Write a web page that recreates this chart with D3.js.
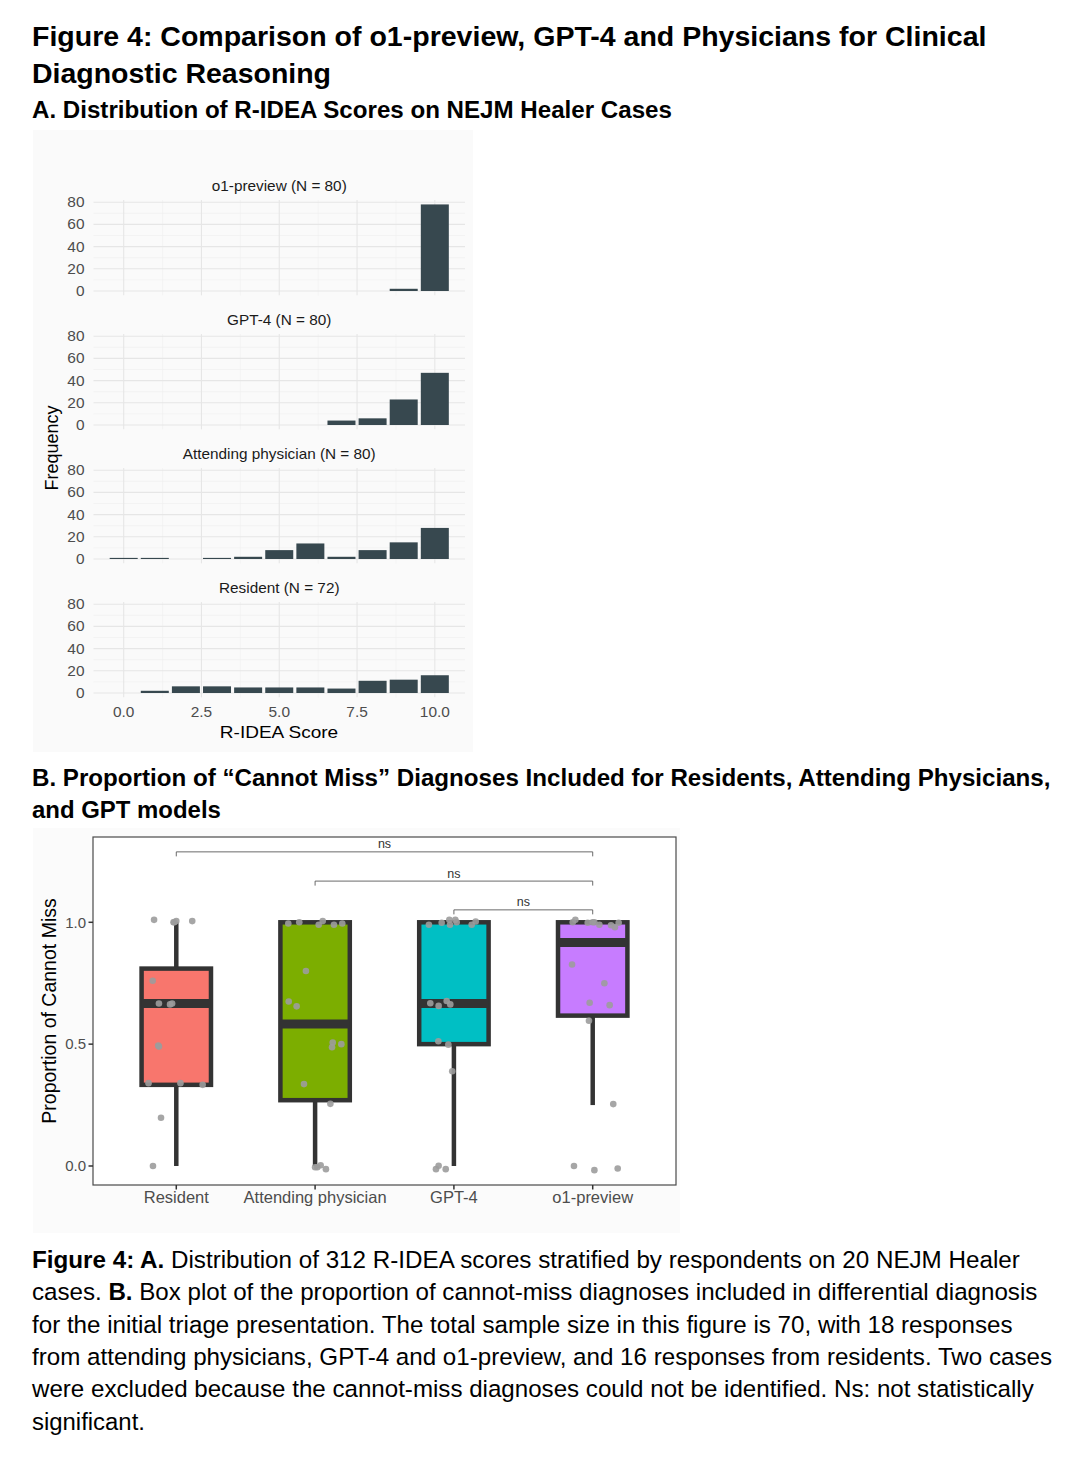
<!DOCTYPE html>
<html><head><meta charset="utf-8">
<script src="https://cdn.jsdelivr.net/npm/d3@7"></script>
<style>body{margin:0;background:#fff;} text{font-family:"Liberation Sans",Arial,Helvetica,sans-serif;}</style>
</head><body><svg id="c" width="1080" height="1462"></svg>
<script>
// ---------------- data ----------------
const scoreBins = [0,1,2,3,4,5,6,7,8,9,10];
const facetLabels = ["o1-preview (N = 80)","GPT-4 (N = 80)","Attending physician (N = 80)","Resident (N = 72)"];
const o1Counts        = [0,0,0,0,0,0,0,0,0,2,78];
const gpt4Counts      = [0,0,0,0,0,0,0,4,6,23,47];
const attendingCounts = [1,1,0,1,2,8,14,2,8,15,28];
const residentCounts  = [0,2,6,6,5,5,5,4,11,12,16];
const freqTicks = [0,20,40,60,80];
const freqMinor = [10,30,50,70];
const scoreTicks = [0,2.5,5,7.5,10];
const scoreMinor = [1.25,3.75,6.25,8.75];

const groups = ["Resident","Attending physician","GPT-4","o1-preview"];
const groupColors = ["#F8766D","#7CAE00","#00BFC4","#C77CFF"];
const boxLower  = [0,0,0,0.25];
const boxQ1     = [0.333,0.27,0.5,0.617];
const boxMedian = [0.667,0.583,0.667,0.917];
const boxQ3     = [0.81,1,1,1];
const boxUpper  = [1,1,1,1];
const propTicks = [0,0.5,1];
// jittered points: [offset in category units, proportion]
const residentPts = [[-0.16,1.01],[-0.02,1.0],[0.0,1.005],[-0.015,1.0],[0.115,1.005],[-0.17,0.76],[-0.125,0.667],[-0.045,0.663],[-0.03,0.667],[-0.13,0.494],[-0.125,0.49],[-0.2,0.34],[0.03,0.34],[0.19,0.333],[-0.11,0.198],[-0.168,0.0]];
const attendingPts = [[-0.193,0.995],[-0.114,1.0],[0.026,0.99],[0.055,1.005],[0.136,0.99],[0.196,0.995],[-0.066,0.80],[-0.19,0.675],[-0.133,0.655],[0.127,0.507],[0.122,0.487],[0.189,0.5],[-0.08,0.336],[0.11,0.255],[0.0,-0.005],[0.016,-0.005],[0.04,0.003],[0.078,-0.013]];
const gpt4Pts = [[-0.18,0.99],[-0.088,0.998],[-0.033,1.01],[-0.028,0.99],[0.01,1.01],[0.02,1.0],[0.128,0.99],[0.157,1.003],[-0.17,0.668],[-0.11,0.657],[-0.052,0.677],[-0.026,0.663],[-0.112,0.512],[-0.04,0.498],[-0.012,0.389],[-0.129,-0.013],[-0.11,0.001],[-0.059,-0.013]];
const o1Pts = [[-0.144,1.0],[-0.125,1.01],[-0.036,0.998],[0.0,1.0],[0.012,1.0],[0.048,0.99],[0.132,0.988],[0.16,0.98],[0.187,0.998],[-0.149,0.827],[0.084,0.75],[-0.022,0.67],[0.122,0.66],[-0.027,0.596],[0.148,0.254],[-0.135,0.0],[0.012,-0.017],[0.18,-0.01]];
// significance comparisons: [group a, group b, bracket level]
const comparisons = [[0,3,1.289],[1,3,1.169],[2,3,1.051]];
const compLabels = ["ns","ns","ns"];

const titleLines = ["Figure 4: Comparison of o1-preview, GPT-4 and Physicians for Clinical","Diagnostic Reasoning"];
const headingA = "A. Distribution of R-IDEA Scores on NEJM Healer Cases";
const headingB = ["B. Proportion of \u201CCannot Miss\u201D Diagnoses Included for Residents, Attending Physicians,","and GPT models"];
const captionLines = [
  [["Figure 4: A.",true],[" Distribution of 312 R-IDEA scores stratified by respondents on 20 NEJM Healer",false]],
  [["cases. ",false],["B.",true],[" Box plot of the proportion of cannot-miss diagnoses included in differential diagnosis",false]],
  [["for the initial triage presentation. The total sample size in this figure is 70, with 18 responses",false]],
  [["from attending physicians, GPT-4 and o1-preview, and 16 responses from residents. Two cases",false]],
  [["were excluded because the cannot-miss diagnoses could not be identified. Ns: not statistically",false]],
  [["significant.",false]]
];

// ---------------- helpers ----------------
const svg = d3.select("#c");
svg.append("rect").attr("width",1080).attr("height",1462).attr("fill","#fff");

function fitSize(t, size, target){
  const w = t.node().getComputedTextLength();
  const s = Math.min(size*1.12, Math.max(size*0.9, size*target/w));
  t.attr("font-size", s.toFixed(2));
  return s;
}
function line(parent, x, y, parts, size, target){
  const t = parent.append("text").attr("x",x).attr("y",y).attr("font-size",size).attr("fill","#000");
  parts.forEach(p => t.append("tspan").attr("font-weight", p[1] ? "bold" : "normal").text(p[0]));
  if (target) fitSize(t, size, target);
  return t;
}
function label(parent, x, y, s, o){
  o = o || {};
  let tr = `translate(${x},${y})`;
  if (o.rot) tr += ` rotate(${o.rot})`;
  if (o.sx) tr += o.rot ? ` scale(1,${o.sx})` : ` scale(${o.sx},1)`;
  return parent.append("text").attr("transform", tr)
    .attr("text-anchor", o.anchor || "middle")
    .attr("font-size", o.size || 14)
    .attr("fill", o.fill || "#000")
    .text(s);
}

// ---------------- headings ----------------
line(svg, 32, 46, [[titleLines[0],true]], 26, 955);
line(svg, 32, 83, [[titleLines[1],true]], 26, 299);
line(svg, 32, 118, [[headingA,true]], 23, 640);
line(svg, 32, 786, [[headingB[0],true]], 23, 1019);
line(svg, 32, 818, [[headingB[1],true]], 23, 189);
const capTargets = [988, 1006, 981, 1020, 1002, 113];
captionLines.forEach((parts,i) => line(svg, 32, 1268 + i*32.3, parts, 23, capTargets[i]));

// ---------------- Panel A: faceted histograms ----------------
const gA = svg.append("g");
gA.append("rect").attr("x",33).attr("y",130).attr("width",440).attr("height",622).attr("fill","#fafafa");
const xA = d3.scaleLinear().domain([-0.97,10.97]).range([93.5,465]);
const facetCounts = [o1Counts, gpt4Counts, attendingCounts, residentCounts];
const facetStep = 134, firstZero = 291;
const pxPerCount = 22.2/20;
facetCounts.forEach((counts, i) => {
  const y0 = firstZero + i*facetStep;
  const yA = d3.scaleLinear().domain([-3.9,81.9]).range([y0 + 3.9*pxPerCount, y0 - 81.9*pxPerCount]);
  const g = gA.append("g");
  const top = yA(81.9), bot = yA(-3.9);
  g.selectAll(".hmin").data(freqMinor).join("line")
    .attr("x1",xA.range()[0]).attr("x2",xA.range()[1]).attr("y1",d=>yA(d)).attr("y2",d=>yA(d))
    .attr("stroke","#eeeeee").attr("stroke-width",0.6);
  g.selectAll(".vmin").data(scoreMinor).join("line")
    .attr("x1",d=>xA(d)).attr("x2",d=>xA(d)).attr("y1",top).attr("y2",bot)
    .attr("stroke","#eeeeee").attr("stroke-width",0.6);
  g.selectAll(".hmaj").data(freqTicks).join("line")
    .attr("x1",xA.range()[0]).attr("x2",xA.range()[1]).attr("y1",d=>yA(d)).attr("y2",d=>yA(d))
    .attr("stroke","#e6e6e6").attr("stroke-width",1.1);
  g.selectAll(".vmaj").data(scoreTicks).join("line")
    .attr("x1",d=>xA(d)).attr("x2",d=>xA(d)).attr("y1",top).attr("y2",bot)
    .attr("stroke","#e6e6e6").attr("stroke-width",1.1);
  const bins = scoreBins.map((s,k)=>({s, c:counts[k]})).filter(d=>d.c>0);
  g.selectAll(".bar").data(bins).join("rect")
    .attr("x",d=>xA(d.s-0.45)).attr("width",d=>xA(d.s+0.45)-xA(d.s-0.45))
    .attr("y",d=>yA(d.c)).attr("height",d=>yA(0)-yA(d.c))
    .attr("fill","#37484f");
  freqTicks.forEach(t => label(g, 84.5, yA(t)+5, String(t), {anchor:"end", size:14.3, sx:1.08, fill:"#4d4d4d"}));
  label(g, (xA.range()[0]+xA.range()[1])/2, y0 - 100, facetLabels[i], {size:14.2, sx:1.08, fill:"#1a1a1a"});
  if (i === facetCounts.length-1) {
    scoreTicks.forEach(t => label(g, xA(t), 717, d3.format(".1f")(t), {size:14.3, sx:1.08, fill:"#4d4d4d"}));
  }
});
label(gA, 279, 738, "R-IDEA Score", {size:17, sx:1.12});
label(gA, 57.5, 448, "Frequency", {size:18, rot:-90, sx:1.05});

// ---------------- Panel B: box plot ----------------
const gB = svg.append("g");
gB.append("rect").attr("x",33).attr("y",828).attr("width",647).attr("height",405).attr("fill","#fbfbfb");
const xB = d3.scaleLinear().domain([0.4,4.6]).range([93,676]);
const yB = d3.scaleLinear().domain([-0.078,1.35]).range([1185,837]);
gB.append("rect").attr("x",93).attr("y",837).attr("width",583).attr("height",348).attr("fill","#fff");

comparisons.forEach((c,i) => {
  const xa = xB(c[0]+1), xb = xB(c[1]+1), yl = yB(c[2]), tip = 4.5;
  gB.append("path").attr("d",`M${xa},${yl+tip}V${yl}H${xb}V${yl+tip}`)
    .attr("fill","none").attr("stroke","#5a5a5a").attr("stroke-width",0.9);
  label(gB, (xa+xb)/2, yl-3.5, compLabels[i], {size:12.5, fill:"#333"});
});

const pointSets = [residentPts, attendingPts, gpt4Pts, o1Pts];
const bw = 0.25;
groups.forEach((gname, i) => {
  const cx = xB(i+1);
  gB.append("line").attr("x1",cx).attr("x2",cx).attr("y1",yB(boxQ3[i])).attr("y2",yB(boxUpper[i]))
    .attr("stroke","#333").attr("stroke-width",4.5);
  gB.append("line").attr("x1",cx).attr("x2",cx).attr("y1",yB(boxQ1[i])).attr("y2",yB(boxLower[i]))
    .attr("stroke","#333").attr("stroke-width",4.5);
  gB.append("rect").attr("x",xB(i+1-bw)).attr("width",xB(i+1+bw)-xB(i+1-bw))
    .attr("y",yB(boxQ3[i])).attr("height",yB(boxQ1[i])-yB(boxQ3[i]))
    .attr("fill",groupColors[i]).attr("stroke","#333").attr("stroke-width",4.5);
  gB.append("line").attr("x1",xB(i+1-bw)).attr("x2",xB(i+1+bw)).attr("y1",yB(boxMedian[i])).attr("y2",yB(boxMedian[i]))
    .attr("stroke","#333").attr("stroke-width",9);
});
groups.forEach((gname, i) => {
  gB.selectAll(null).data(pointSets[i]).join("circle")
    .attr("cx",d=>xB(i+1+d[0])).attr("cy",d=>yB(d[1])).attr("r",3.3)
    .attr("fill","#9c9c9c").attr("fill-opacity",0.9);
});
gB.append("rect").attr("x",93).attr("y",837).attr("width",583).attr("height",348)
  .attr("fill","none").attr("stroke","#4a4a4a").attr("stroke-width",1.2);
propTicks.forEach(t => {
  gB.append("line").attr("x1",88.5).attr("x2",93).attr("y1",yB(t)).attr("y2",yB(t)).attr("stroke","#333").attr("stroke-width",1.5);
  label(gB, 86, yB(t)+5.3, d3.format(".1f")(t), {anchor:"end", size:15, fill:"#4d4d4d"});
});
groups.forEach((gname,i) => {
  gB.append("line").attr("x1",xB(i+1)).attr("x2",xB(i+1)).attr("y1",1185).attr("y2",1189.5).attr("stroke","#333").attr("stroke-width",1.5);
  label(gB, xB(i+1), 1203, gname, {size:16.5, fill:"#4d4d4d"});
});
label(gB, 55.5, 1011, "Proportion of Cannot Miss", {size:19.5, rot:-90});
</script>
</body></html>
